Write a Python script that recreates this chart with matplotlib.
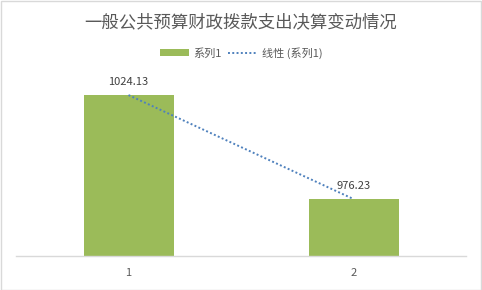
import matplotlib
matplotlib.use("Agg")
import matplotlib.pyplot as plt
from matplotlib.patches import Rectangle
import numpy as np

plt.rcParams['font.family'] = ['Noto Sans CJK SC', 'DejaVu Sans']

title = "一般公共预算财政拨款支出决算变动情况"
categories = ["1", "2"]
values = [1024.13, 976.23]
series_name = "系列1"
trend_name = "线性 (系列1)"

bar_color = "#9BBB59"
trend_color = "#4F81BD"

fig = plt.figure(figsize=(4.82, 2.90), dpi=100)
fig.patches.append(Rectangle((0.5/482, 0.5/290), 1-1.5/482, 1-1.5/290, transform=fig.transFigure,
                             fill=False, edgecolor="#D9D9D9", linewidth=1))

W, H = 482, 290
left, right, bottom, top = 16, 466, 256, 60.6
ax = fig.add_axes([left/W, 1-bottom/H, (right-left)/W, (bottom-top)/H])

x = np.arange(len(categories))
bars = ax.bar(x, values, width=0.4, color=bar_color, label=series_name, zorder=2)

# linear trendline
coef = np.polyfit(x, values, 1)
tx = np.array([x[0], x[-1]])
line, = ax.plot(tx, np.polyval(coef, tx), linestyle=(0, (1, 1.2)), color=trend_color,
                linewidth=1.4, label=trend_name, zorder=3)

for xi, v in zip(x, values):
    ax.annotate(f"{v:.2f}", (xi, v), xytext=(0, 6), textcoords="offset points",
                ha="center", va="bottom", fontsize=8, color="#404040")

ax.set_xlim(-0.5, len(categories)-0.5)
ax.set_ylim(950, 1040)
ax.set_xticks(x)
ax.set_xticklabels(categories, fontsize=8, color="#595959")
ax.tick_params(axis='x', length=0, pad=9)
ax.set_yticks([])
for s in ["top", "left", "right"]:
    ax.spines[s].set_visible(False)
ax.spines["bottom"].set_color("#D9D9D9")
ax.spines["bottom"].set_linewidth(1)

fig.text(0.5, 1-22/H, title, ha="center", va="center", fontsize=12.5, color="#595959")

leg = ax.legend([bars, line], [series_name, trend_name], loc="center",
                bbox_to_anchor=(0.5, 1-53/H), bbox_transform=fig.transFigure,
                ncol=2, frameon=False, fontsize=8, handlelength=2.6, handleheight=0.6,
                columnspacing=0.6, handletextpad=0.4, labelcolor="#595959")

fig.savefig("out.png", dpi=100)
